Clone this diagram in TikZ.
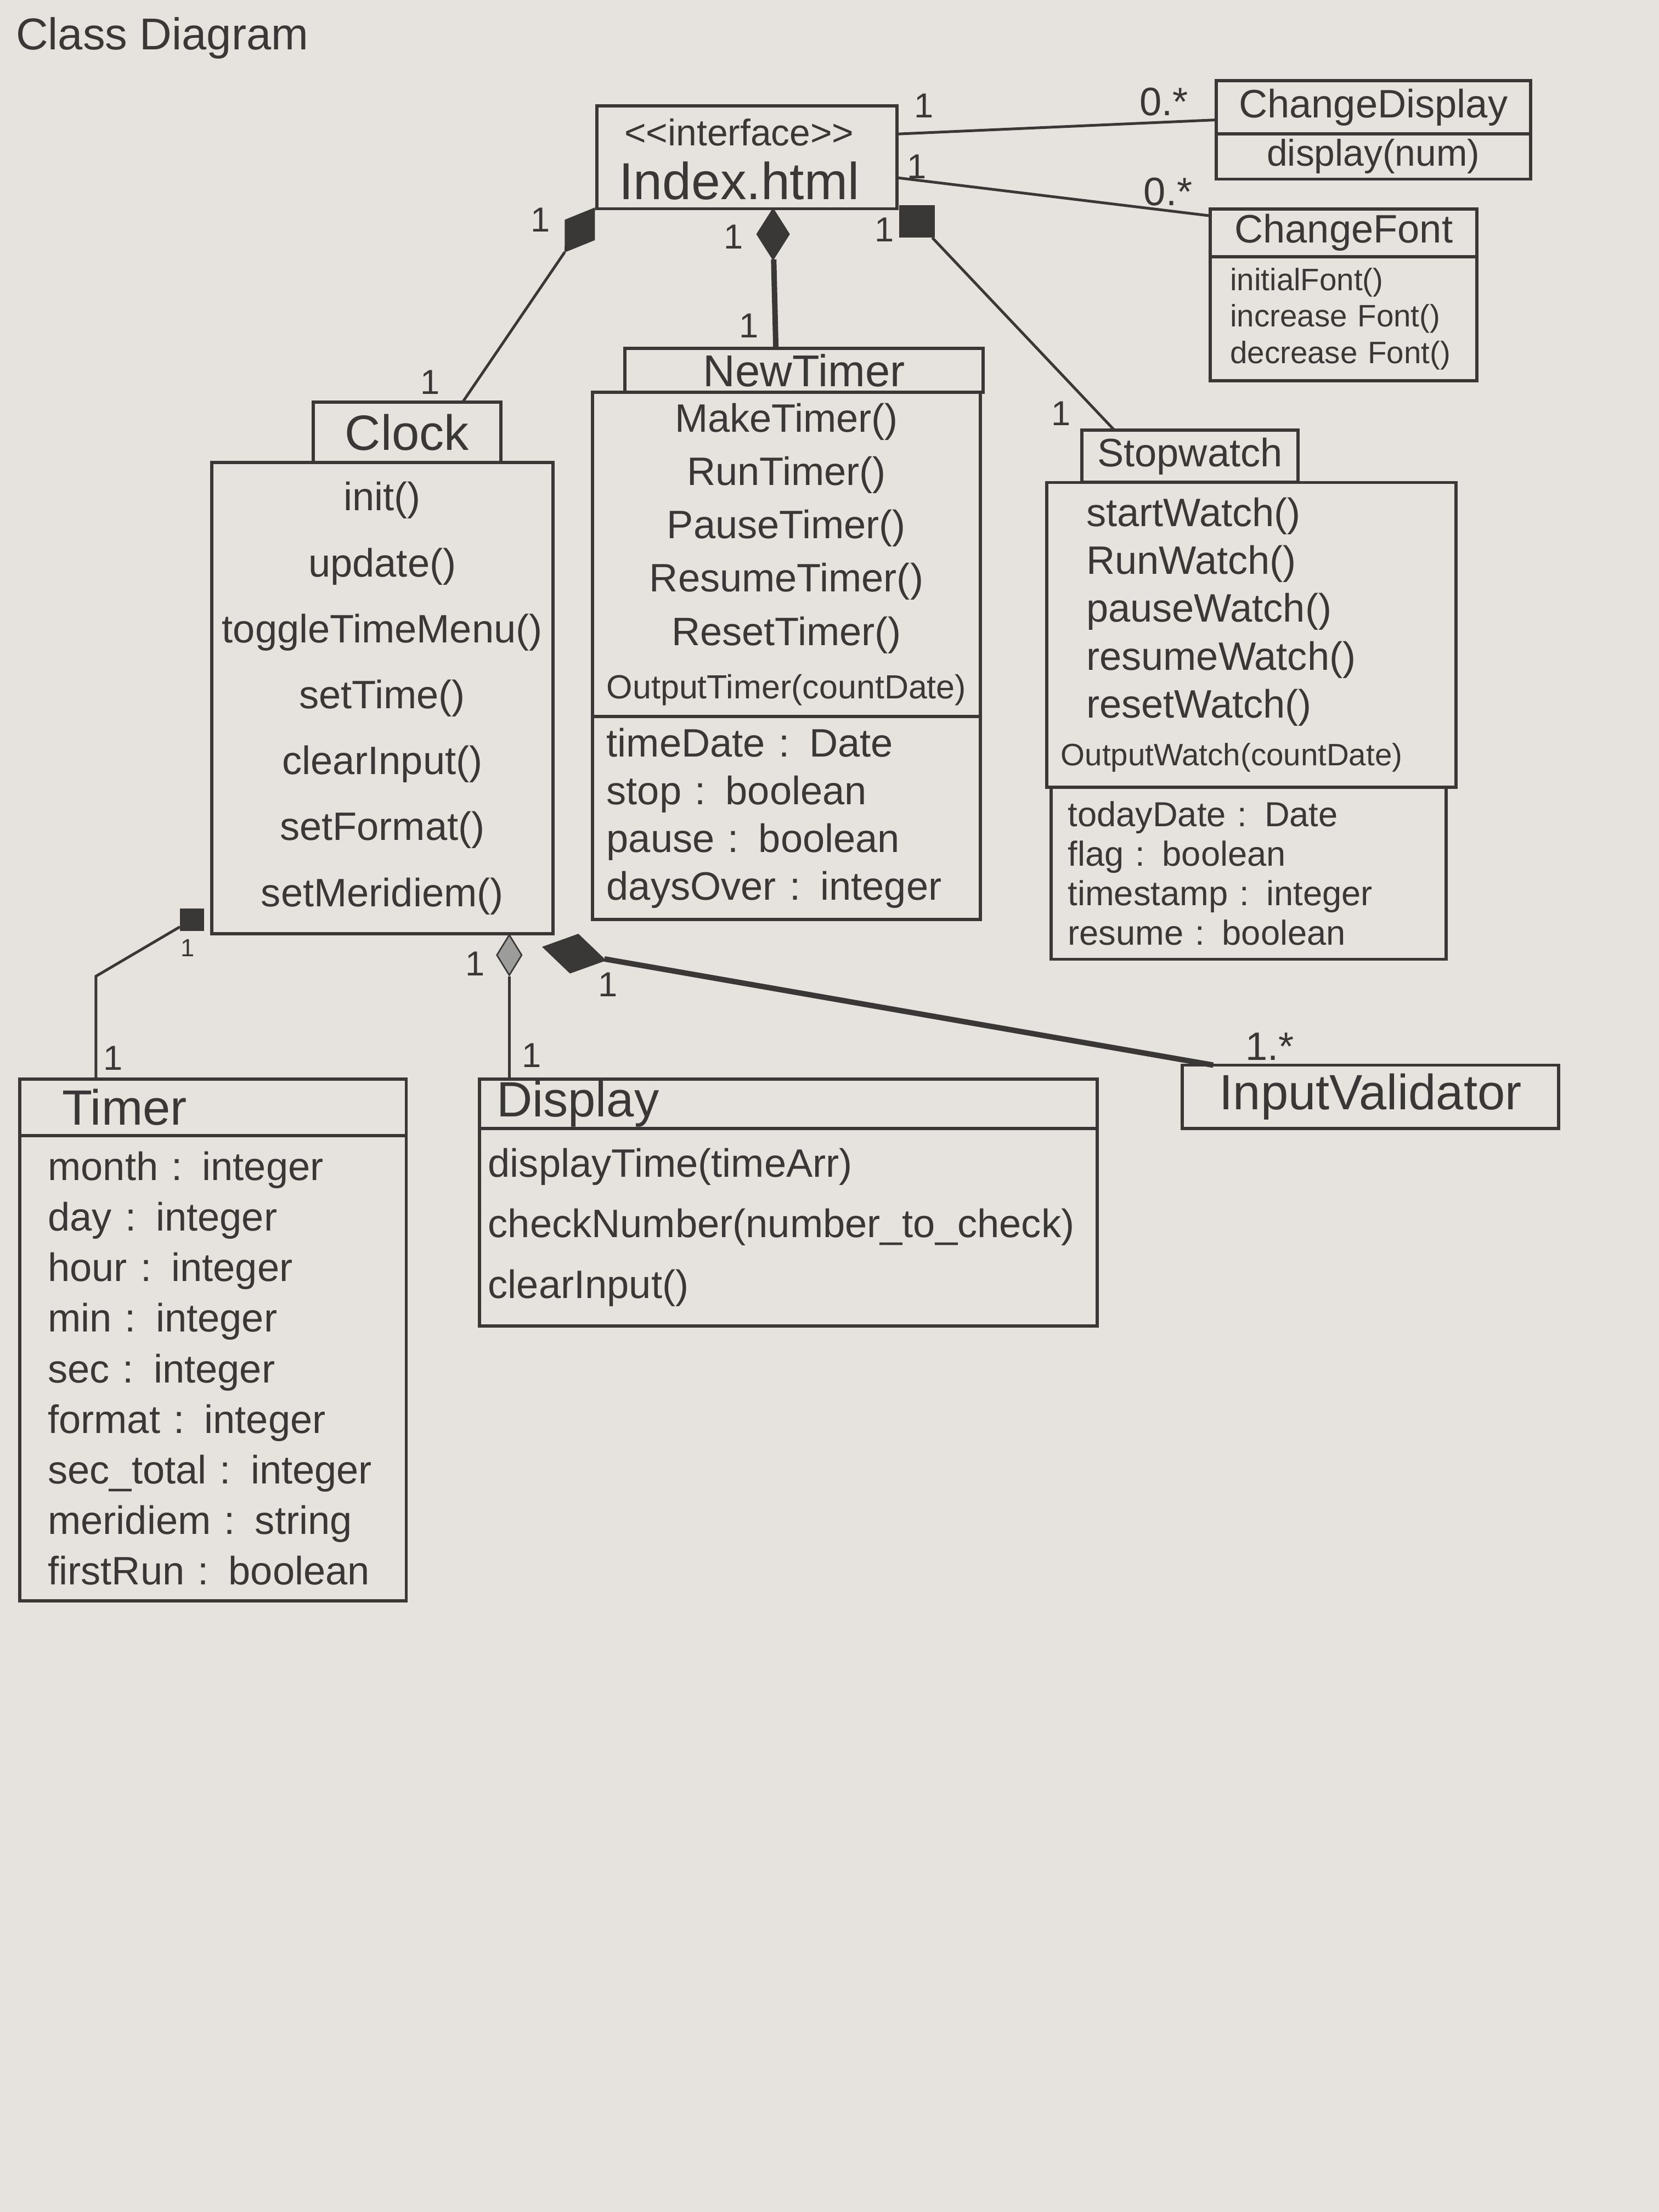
\documentclass[tikz,border=0pt]{standalone}
\usepackage{fontspec}
\setmainfont{Liberation Sans}
\usetikzlibrary{shapes.geometric}
\definecolor{paper}{HTML}{E6E3DF}
\definecolor{pencil}{HTML}{3A3836}
\newcommand{\hsz}[2]{\fontsize{#1}{#2}\selectfont}

\begin{document}
\begin{tikzpicture}[x=0.02cm,y=-0.02cm,
  box/.style={draw=pencil,line width=1.3pt,anchor=north west,inner sep=0pt,outer sep=0pt,text=pencil},
  txt/.style={text=pencil},
  mult/.style={text=pencil,font={\hsz{14}{16}}},
  link/.style={draw=pencil,line width=1.1pt},
  heavy/.style={draw=pencil,line width=2.2pt},
  comp/.style={diamond,fill=pencil,draw=pencil,line width=0.6pt,inner sep=0pt},
  sqr/.style={rectangle,fill=pencil,draw=pencil,line width=0.6pt,inner sep=0pt}]
  \fill[paper] (0,0) rectangle (1176,1568);
  \useasboundingbox (0,0) rectangle (1176,1568);

  \node[txt,font={\hsz{18}{20}}] (title) at (115,27) {Class Diagram};

  \node[box,minimum width=4.26cm,minimum height=1.46cm] (index) at (423,75) {};
  \node[txt,font={\hsz{15}{17}}] (istereo) at (524,94) {<{}<interface>{}>};
  \node[txt,font={\hsz{21}{24}}] (iname) at (524,128) {Index.html};

  \node[box,minimum width=4.46cm,minimum height=0.76cm,font={\hsz{16}{18}}] (cdname) at (862,57) {ChangeDisplay};
  \node[box,minimum width=4.46cm,minimum height=0.64cm,font={\hsz{15}{17}}] (cdops) at (cdname.south west) {display(num)};

  \node[box,minimum width=3.78cm,minimum height=0.68cm,font={\hsz{16}{18}}] (cfname) at (858,148) {ChangeFont};
  \node[box,minimum height=1.76cm,inner xsep=0.28cm,text width=3.22cm,align=left,font={\hsz{12.5}{14.7}}] (cfops) at (cfname.south west) {initialFont()\\increase Font()\\decrease Font()};

  \node[box,minimum width=2.66cm,minimum height=0.86cm,font={\hsz{20}{22}}] (ckname) at (222,285) {Clock};
  \node[box,minimum width=4.84cm,minimum height=6.68cm,align=center,font={\hsz{16}{26.6}}] (ckops) at (150,328) {init()\\update()\\toggleTimeMenu()\\setTime()\\clearInput()\\setFormat()\\setMeridiem()};

  \node[box,minimum width=5.08cm,minimum height=0.62cm,font={\hsz{18}{20}}] (ntname) at (443,247) {NewTimer};
  \node[box,minimum width=5.5cm,minimum height=4.6cm,align=center,font={\hsz{16}{21.5}}] (ntops) at (420,278) {MakeTimer()\\RunTimer()\\PauseTimer()\\ResumeTimer()\\ResetTimer()\\{\hsz{13.5}{21.5}OutputTimer(countDate)}};
  \node[box,minimum height=2.88cm,inner xsep=0.2cm,text width=5.1cm,align=left,font={\hsz{16}{19.3}}] (ntattr) at (ntops.south west) {timeDate : Date\\stop : boolean\\pause : boolean\\daysOver : integer};

  \node[box,minimum width=3.06cm,minimum height=0.74cm,font={\hsz{16}{18}}] (swname) at (767,305) {Stopwatch};
  \node[box,minimum height=4.32cm,inner xsep=0.56cm,text width=4.68cm,align=left,font={\hsz{16}{19.3}}] (swops) at (742,342) {startWatch()\\RunWatch()\\pauseWatch()\\resumeWatch()\\resetWatch()\\\hspace*{-0.36cm}{\hsz{12.5}{19.3}OutputWatch(countDate)}};
  \node[box,minimum height=2.44cm,inner xsep=0.24cm,text width=5.12cm,align=left,font={\hsz{14}{15.9}}] (swattr) at (745,558) {todayDate : Date\\flag : boolean\\timestamp : integer\\resume : boolean};

  \node[box,minimum height=0.8cm,inner xsep=0.6cm,text width=4.28cm,align=left,font={\hsz{20}{22}}] (tmname) at (14,765) {Timer};
  \node[box,minimum height=6.6cm,inner xsep=0.4cm,text width=4.68cm,align=left,font={\hsz{16}{20.4}}] (tmattr) at (tmname.south west) {month : integer\\day : integer\\hour : integer\\min : integer\\sec : integer\\format : integer\\sec\_total : integer\\meridiem : string\\firstRun : boolean};

  \node[box,minimum height=0.7cm,inner xsep=0.24cm,text width=8.28cm,align=left,font={\hsz{20}{22}}] (dsname) at (340,765) {Display};
  \node[box,minimum height=2.8cm,inner xsep=0.12cm,text width=8.52cm,align=left,font={\hsz{16}{24.4}}] (dsops) at (dsname.south west) {displayTime(timeArr)\\checkNumber(number\_to\_check)\\clearInput()};

  \node[box,minimum width=5.34cm,minimum height=0.9cm,font={\hsz{20}{22}}] (ivname) at (838,755) {InputValidator};

  \draw[link] ([yshift=0.33cm]index.east) -- ([yshift=-0.18cm]cdname.west);
  \draw[link] ([yshift=-0.29cm]index.east) -- ([yshift=0.24cm]cfname.west);

  \node[comp,minimum width=0.5cm,minimum height=0.74cm,rotate=-34] (dck) at (411,163) {};
  \node[comp,minimum width=0.46cm,minimum height=0.72cm] (dnt) at (548,166) {};
  \node[sqr,minimum width=0.48cm,minimum height=0.44cm] (ssw) at (650,157) {};
  \draw[link] (dck) -- ([xshift=-0.54cm]ckname.north east);
  \draw[heavy] (dnt) -- ([xshift=-0.4cm]ntname.north);
  \draw[link] (ssw) -- ([xshift=0.46cm]swname.north west);

  \node[sqr,minimum width=0.32cm,minimum height=0.3cm] (stm) at (136,652) {};
  \node[comp,fill=pencil!50,minimum width=0.36cm,minimum height=0.58cm] (dds) at (361,677) {};
  \node[comp,minimum width=0.9cm,minimum height=0.56cm,rotate=-12] (div) at (407,676) {};
  \draw[link] (stm) -- ([xshift=1.08cm,yshift=1.46cm]tmname.north west) -- ([xshift=1.08cm]tmname.north west);
  \draw[link] (dds) -- (dds |- dsname.north);
  \draw[heavy] (div) -- ([xshift=0.44cm]ivname.north west);

  \node[mult] (m1) at (655,75) {1};
  \node[mult,font={\hsz{16}{18}}] (m2) at (825,72) {0.*};
  \node[mult] (m3) at (650,118) {1};
  \node[mult,font={\hsz{16}{18}}] (m4) at (828,136) {0.*};
  \node[mult] (m5) at (383,156) {1};
  \node[mult] (m6) at (305,271) {1};
  \node[mult] (m7) at (520,168) {1};
  \node[mult] (m8) at (531,231) {1};
  \node[mult] (m9) at (627,163) {1};
  \node[mult] (m10) at (752,293) {1};
  \node[mult,font={\hsz{10}{12}}] (m11) at (133,672) {1};
  \node[mult] (m12) at (80,750) {1};
  \node[mult] (m13) at (337,683) {1};
  \node[mult] (m14) at (377,748) {1};
  \node[mult] (m15) at (431,698) {1};
  \node[mult,font={\hsz{16}{18}}] (m16) at (900,742) {1.*};
\end{tikzpicture}
\end{document}
